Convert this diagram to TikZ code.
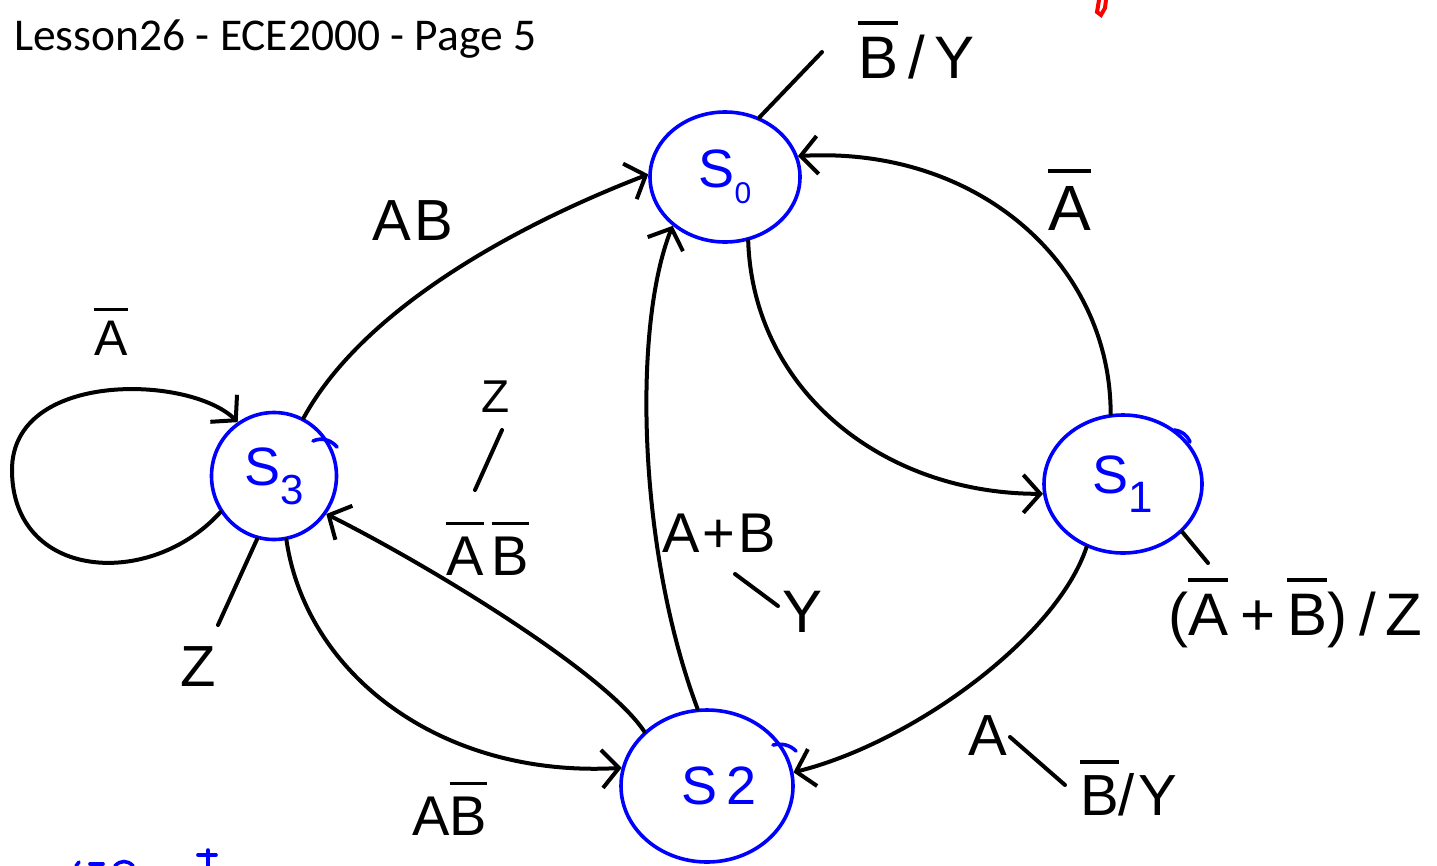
\documentclass[tikz,border=0pt]{standalone}
\usepackage{fontspec}
\setmainfont{Liberation Sans}
\newfontfamily\carlito{Carlito}
\newfontfamily\hand[LetterSpace=6]{Liberation Sans}
\usetikzlibrary{arrows.meta,shapes.geometric}
\newcommand\nb[1]{\leavevmode\vbox{\hrule height 0.06em\kern0.2em\hbox{#1}}}
\newcommand\fs[1]{\hand\fontsize{#1}{#1}\selectfont}
\tikzset{
  stnode/.style={ellipse, draw=blue, line width=3.6pt, inner sep=0pt, text=blue, font=\fs{54}},
  conn/.style={line width=4pt, line cap=round, -{Straight Barb[length=17pt,width=38pt]}},
  lead/.style={line width=4pt, line cap=round},
  lbl/.style={anchor=base west, inner sep=0pt, font=\fs{60}},
  penmark/.style={line width=3.6pt, line cap=round},
}
\begin{document}
\begin{tikzpicture}[x=1pt,y=-1pt]
\useasboundingbox (0,0) rectangle (1437,865);
\fill[white] (0,0) rectangle (1437,865);

\node[anchor=base west, inner sep=0pt, font=\carlito\fontsize{45.5}{50}\selectfont] (title) at (14,50) {Lesson26 - ECE2000 - Page 5};

% states
\node[stnode, minimum width=150pt, minimum height=130pt] (s0) at (725,177) {S\raisebox{-0.3em}{\fs{30}0}};
\node[stnode, minimum width=158pt, minimum height=138pt] (s1) at (1123,484) {S\raisebox{-0.35em}{\fs{44}1}};
\node[stnode, minimum width=172pt, minimum height=152pt] (s2) at (707,786) {\hspace{24pt}S\,2};
\node[stnode, minimum width=125pt, minimum height=127pt] (s3) at (274,476) {S\raisebox{-0.35em}{\fs{42}3}};

% small overlapping pen strokes on the circles
\draw[penmark, blue] (313,441) .. controls (322,437) and (331,440) .. (337,447);
\draw[penmark, blue] (1174,430) .. controls (1182,431) and (1187,435) .. (1190,442);
\draw[penmark, blue] (773,745) .. controls (782,743) and (790,745) .. (796,751);

% transitions
\draw[conn] (s3.63) .. controls +(60,-110) and +(-130,50) .. (s0.178);
\draw[conn] (s0.-70) .. controls +(5,150) and +(-160,0) .. (s1.-173);
\draw[conn] (s1.100) .. controls +(0,-150) and +(180,-10) .. (s0.16);
\draw[conn] (s1.-120) .. controls +(-30,90) and +(120,-30) .. (s2.9);
\draw[conn] (s2.97) .. controls +(-60,-160) and +(-40,100) .. (s0.-137);
\draw[conn] (s2.139) .. controls +(-40,-60) and +(100,50) .. (s3.-36);
\draw[conn] (s3.-79) .. controls +(20,135) and +(-180,10) .. (s2.168);
\coordinate (loopL) at (12,470);
\draw[conn] (s3.-146) .. controls (150,590) and (12,580) .. (loopL)
                      .. controls (12,370) and (190,375) .. (s3.124);

% output leaders
\coordinate (l0) at (822,52);
\draw[lead] (s0.60) -- (l0);
\coordinate (l1) at (1208,563);
\draw[lead] (s1.-39) -- (l1);
\coordinate (l3) at (218,625);
\draw[lead] (s3.-105) -- (l3);

% slashes inside labels
\coordinate (zs1) at (475,490); \coordinate (zs2) at (502,430);
\draw[lead] (zs1) -- (zs2);
\coordinate (ys1) at (735,574); \coordinate (ys2) at (778,606);
\draw[lead] (ys1) -- (ys2);
\coordinate (as1) at (1010,737); \coordinate (as2) at (1065,785);
\draw[lead] (as1) -- (as2);

% labels
\node[lbl] (t0) at (858,78) {\nb{B}\hspace{10pt}/\hspace{10pt}Y};
\node[lbl, font=\fs{58}] (tab) at (372,240) {AB};
\node[lbl, font=\fs{50}] (tloop) at (94,355) {\nb{A}};
\node[lbl, font=\fs{64}] (t10) at (1048,230) {\nb{A}};
\node[lbl, font=\fs{46}] (tz1) at (481,412) {Z};
\node[lbl, font=\fs{56}] (tanb) at (446,575) {\nb{A}\hspace{8pt}\nb{B}};
\node[lbl, font=\fs{56}] (tapb) at (662,552) {A+B};
\node[lbl, font=\fs{60}] (ty1) at (782,632) {Y};
\node[lbl, font=\fs{60}] (t1) at (1168,635) {\addfontfeature{LetterSpace=20}(\nb{A}\hspace{12pt}+\hspace{12pt}\nb{B})\hspace{12pt}/\hspace{10pt}Z};
\node[lbl, font=\fs{58}] (ta) at (968,755) {A};
\node[lbl, font=\fs{58}] (tby) at (1080,815) {\nb{B}/Y};
\node[lbl, font=\fs{56}] (tab2) at (412,835) {A\nb{B}};
\node[lbl, font=\fs{58}] (tz3) at (180,686) {Z};

% cut-off marks at the edges
\draw[penmark, red, line width=4pt] (1099,0) -- (1097,12) -- (1101,15) -- (1105,8) -- (1106,0);
\draw[penmark, blue] (76,866) -- (79,862);
\draw[penmark, blue] (90,864) -- (103,864);
\draw[penmark, blue] (115,866) .. controls (120,860) and (128,860) .. (133,866);
\draw[penmark, blue] (208,850) -- (208,866);
\draw[penmark, blue] (198,855) -- (216,855);
\end{tikzpicture}
\end{document}
